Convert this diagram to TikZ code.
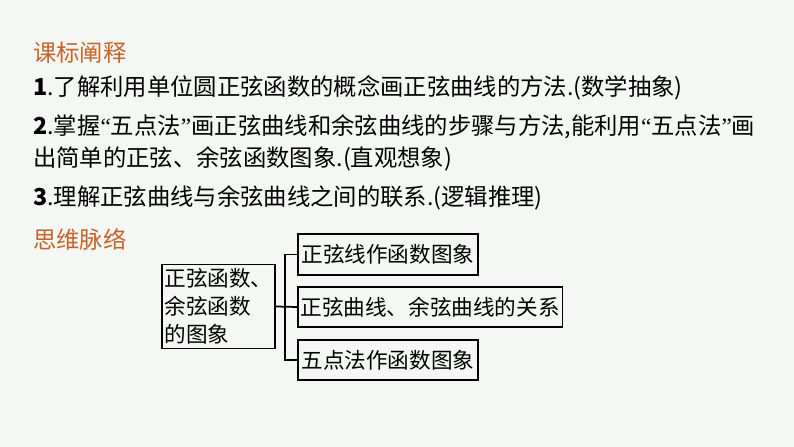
\documentclass[tikz,border=0pt]{standalone}
\usepackage{fontspec}
\setmainfont{Liberation Serif}
\newfontfamily\cjk{Noto Sans CJK SC}
\usetikzlibrary{positioning}
\definecolor{bgGreen}{HTML}{F4F7F4}
\definecolor{headOrange}{HTML}{C8642A}
\newcommand{\lquo}{{\rmfamily “}}
\newcommand{\rquo}{{\rmfamily ”}}
\tikzset{
  txt/.style={anchor=west, inner sep=0pt, font=\cjk\fontsize{17.5}{21}\selectfont},
  head/.style={txt, text=headOrange},
  mapbox/.style={draw, line width=1.3pt, inner sep=2pt, font=\cjk\fontsize{16.2}{21}\selectfont}
}
\begin{document}
\begin{tikzpicture}[x=0.75pt, y=-0.75pt]

%Frame
\fill[bgGreen] (0,0) rectangle (794,447);
\useasboundingbox (0,0) rectangle (794,447);

%Texts
\node[head] (headA) at (33,53) {课标阐释};
\node[txt] (lineA) at (33,88) {\textbf{1}.了解利用单位圆正弦函数的概念画正弦曲线的方法.(数学抽象)};
\node[txt] (lineB) at (33,127) {\textbf{2}.掌握\lquo 五点法\rquo 画正弦曲线和余弦曲线的步骤与方法,能利用\lquo 五点法\rquo 画};
\node[txt] (lineC) at (33,159) {出简单的正弦、余弦函数图象.(直观想象)};
\node[txt] (lineD) at (33,198) {\textbf{3}.理解正弦曲线与余弦曲线之间的联系.(逻辑推理)};
\node[head] (headB) at (33,240) {思维脉络};

%Nodes
\node[mapbox, minimum width=78.75pt, minimum height=63pt, align=left] (root) at (218.5,306.5) {正弦函数、\\余弦函数\\的图象};
\node[mapbox, anchor=west, minimum width=135pt, minimum height=30.75pt] (topicA) at (297,254.5) {正弦线作函数图象};
\node[mapbox, anchor=west, minimum width=198pt, minimum height=30pt] (topicB) at (297,307) {正弦曲线、余弦曲线的关系};
\node[mapbox, anchor=west, minimum width=135pt, minimum height=30pt] (topicC) at (297,360) {五点法作函数图象};

%Links
\coordinate (fork) at (285,306.5);
\draw[line width=1.3pt] (root.east) -- (topicB.west);
\draw[line width=1.3pt] (topicA.west) -| (fork) |- (topicC.west);

\end{tikzpicture}
\end{document}
